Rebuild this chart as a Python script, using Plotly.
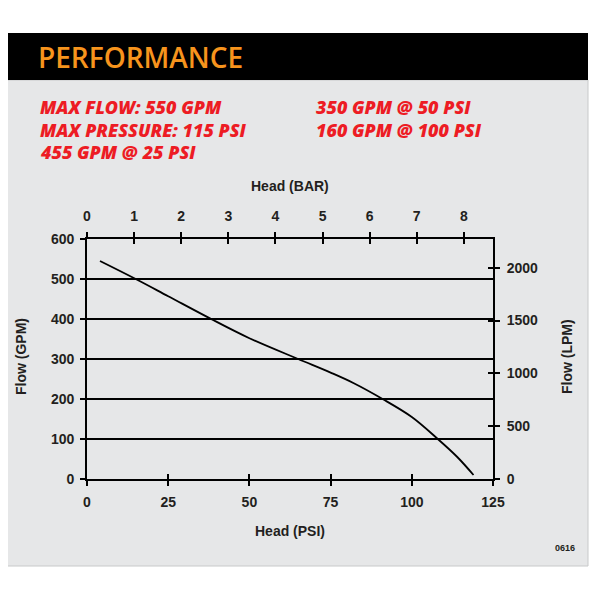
import plotly.graph_objects as go

# ---- data ----
head_psi = [4, 15, 25, 38, 50, 65, 75, 82, 91, 100, 108, 114, 119]
flow_gpm = [545, 500, 457, 401, 352, 300, 266, 240, 200, 155, 100, 55, 10]

psi_ticks = [0, 25, 50, 75, 100, 125]
gpm_ticks = [0, 100, 200, 300, 400, 500, 600]
bar_ticks = [0, 1, 2, 3, 4, 5, 6, 7, 8]
lpm_ticks = [0, 500, 1000, 1500, 2000]

PSI_PER_BAR = 14.5038
LPM_PER_GPM = 3.78541

title_text = "PERFORMANCE"
spec_left = ["MAX FLOW: 550 GPM", "MAX PRESSURE: 115 PSI", "455 GPM @ 25 PSI"]
spec_right = ["350 GPM @ 50 PSI", "160 GPM @ 100 PSI"]
code_text = "0616"

# page body adds an 8px offset; map window pixels to paper coords
OFF = 8
W = H = 600 - OFF
def px(x):
    return (x - OFF) / W
def py(y):
    return 1 - (y - OFF) / H

GREY = "#e6e7e8"
INK = "#231f20"
RED = "#ed1c24"
ORANGE = "#f7941d"

xdom = [px(87), px(493)]
ydom = [py(479), py(239)]

tickfont = dict(family="Liberation Sans, Arial, sans-serif", size=14, color=INK, weight="bold")

fig = go.Figure()
fig.add_trace(go.Scatter(x=head_psi, y=flow_gpm, mode="lines",
                         line=dict(color="black", width=1.8, shape="spline", smoothing=1.0),
                         xaxis="x", yaxis="y", hoverinfo="skip", showlegend=False))
# dummy traces so that secondary / inside-tick axes are drawn
for xa, ya in [("x2", "y2"), ("x3", "y3"), ("x4", "y4")]:
    fig.add_trace(go.Scatter(x=[None], y=[None], xaxis=xa, yaxis=ya, showlegend=False, hoverinfo="skip"))

psi_range = [0, 125]
gpm_range = [0, 600]
bar_range = [0, 125 / PSI_PER_BAR]
lpm_range = [0, 600 * LPM_PER_GPM]

common = dict(showgrid=False, zeroline=False, automargin=False, tickcolor="black",
              tickwidth=1.5, linecolor="black", linewidth=1.8, showline=True, tickfont=tickfont)

fig.update_layout(
    width=W, height=H,
    margin=dict(l=0, r=0, t=0, b=0),
    paper_bgcolor="white",
    plot_bgcolor=GREY,
    showlegend=False,
    xaxis=dict(domain=xdom, range=psi_range, tickmode="array", tickvals=psi_ticks,
               ticks="outside", ticklen=5, ticklabelstandoff=4, anchor="y", side="bottom", **common),
    yaxis=dict(domain=ydom, range=gpm_range, tickmode="array", tickvals=gpm_ticks,
               ticks="outside", ticklen=5, ticklabelstandoff=3, anchor="x", side="left",
               **{**common, "showgrid": True}, gridcolor="black", gridwidth=1.6),
    xaxis2=dict(domain=xdom, range=bar_range, tickmode="array", tickvals=bar_ticks,
                ticks="outside", ticklen=5, ticklabelstandoff=6, anchor="y2", overlaying="x", side="top", **common),
    yaxis2=dict(domain=ydom, range=lpm_range, tickmode="array", tickvals=lpm_ticks,
                ticks="outside", ticklen=5, ticklabelstandoff=4, anchor="x2", overlaying="y", side="right", **common),
    xaxis3=dict(domain=xdom, range=psi_range, tickmode="array", tickvals=psi_ticks,
                ticks="inside", ticklen=5, showticklabels=False, anchor="y", overlaying="x", side="bottom", **common),
    yaxis3=dict(domain=ydom, range=gpm_range, tickmode="array", tickvals=gpm_ticks,
                ticks="inside", ticklen=5, showticklabels=False, anchor="x", overlaying="y", side="left", **common),
    xaxis4=dict(domain=xdom, range=bar_range, tickmode="array", tickvals=bar_ticks,
                ticks="inside", ticklen=5, showticklabels=False, anchor="y2", overlaying="x", side="top", **common),
    yaxis4=dict(domain=ydom, range=lpm_range, tickmode="array", tickvals=lpm_ticks,
                ticks="inside", ticklen=5, showticklabels=False, anchor="x2", overlaying="y", side="right", **common),
)

# panel backgrounds
fig.add_shape(type="rect", xref="paper", yref="paper", x0=px(0), x1=px(588), y0=py(566), y1=py(80),
              fillcolor=GREY, line=dict(color="#c8c9ca", width=1), layer="below")
fig.add_shape(type="rect", xref="paper", yref="paper", x0=px(0), x1=px(588), y0=py(80), y1=py(33),
              fillcolor="black", line=dict(width=0), layer="below")

ann = []
ann.append(dict(text=title_text, x=px(36), y=py(57), xref="paper", yref="paper", xanchor="left", yanchor="middle",
                showarrow=False, font=dict(family="Open Sans, sans-serif", size=28, color=ORANGE, weight=600)))
spec_font = dict(family="Open Sans, sans-serif", size=18, color=RED, weight=800, style="italic")
for i, t in enumerate(spec_left):
    ann.append(dict(text=t, x=px(38), y=py(107 + 22.5 * i), xref="paper", yref="paper", xanchor="left",
                    yanchor="middle", showarrow=False, font=spec_font))
for i, t in enumerate(spec_right):
    ann.append(dict(text=t, x=px(314), y=py(107 + 22.5 * i), xref="paper", yref="paper", xanchor="left",
                    yanchor="middle", showarrow=False, font=spec_font))
title_font = dict(family="Liberation Sans, Arial, sans-serif", size=14, color=INK, weight="bold")
ann.append(dict(text="Head (BAR)", x=px(290), y=py(186), xref="paper", yref="paper", showarrow=False,
                xanchor="center", yanchor="middle", font=title_font))
ann.append(dict(text="Head (PSI)", x=px(290), y=py(531), xref="paper", yref="paper", showarrow=False,
                xanchor="center", yanchor="middle", font=title_font))
ann.append(dict(text="Flow (GPM)", x=px(21), y=py(357), xref="paper", yref="paper", showarrow=False,
                xanchor="center", yanchor="middle", textangle=-90, font=title_font))
ann.append(dict(text="Flow (LPM)", x=px(567), y=py(357), xref="paper", yref="paper", showarrow=False,
                xanchor="center", yanchor="middle", textangle=-90, font=title_font))
ann.append(dict(text=code_text, x=px(565), y=py(548), xref="paper", yref="paper", showarrow=False,
                xanchor="center", yanchor="middle",
                font=dict(family="Liberation Sans, Arial, sans-serif", size=9, color=INK, weight="bold")))
fig.update_layout(annotations=ann)

fig.write_html("out.html")
